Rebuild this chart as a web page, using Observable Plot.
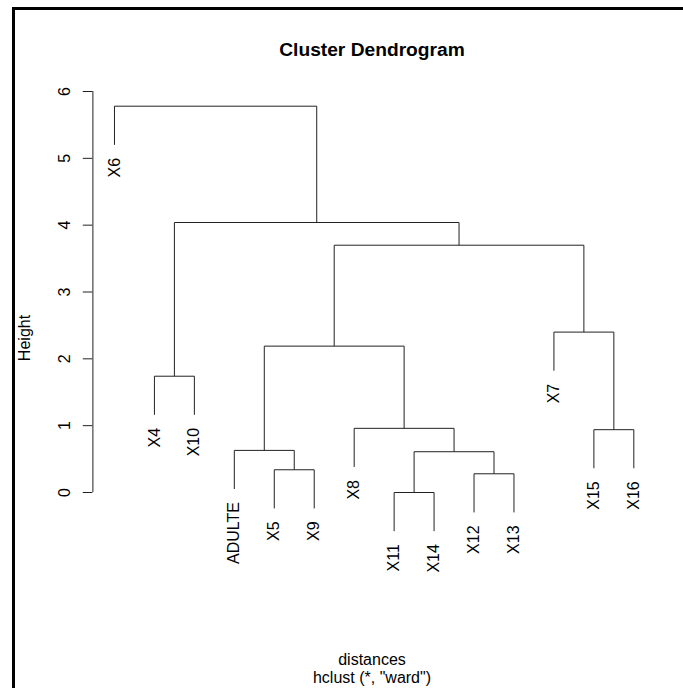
<!DOCTYPE html>
<html>
<head>
<meta charset="utf-8">
<script src="https://cdn.jsdelivr.net/npm/d3@7"></script>
<script src="https://cdn.jsdelivr.net/npm/@observablehq/plot@0.6"></script>
<style>
  html, body { margin: 0; padding: 0; background: #fff; }
  body { width: 683px; height: 688px; position: relative; overflow: hidden;
         font-family: "Liberation Sans", Arial, sans-serif; color: #000; }
  .frameL { position: absolute; left: 12px; top: 7px; width: 3px; height: 681px; background: #000; }
  .frameT { position: absolute; left: 12px; top: 7px; width: 671px; height: 3px; background: #000; }
  #title { position: absolute; left: 0; top: 38.8px; width: 744px; text-align: center;
           font-weight: bold; font-size: 19.2px; line-height: 22px; }
  #ylab { position: absolute; left: 25px; top: 338px; transform: translate(-50%, -50%) rotate(-90deg);
          font-size: 16px; line-height: 19.2px; white-space: nowrap; }
  #caption { position: absolute; left: 0; top: 650.5px; width: 744px; text-align: center;
             font-size: 16px; line-height: 18px; }
  #chart { position: absolute; left: 0; top: 70px; }
</style>
</head>
<body>
<div class="frameL"></div>
<div class="frameT"></div>
<div id="title">Cluster Dendrogram</div>
<div id="ylab">Height</div>
<div id="chart"></div>
<div id="caption">distances<br>hclust (*, "ward")</div>
<script>
// Leaves in dendrogram order
const leafLabels = ["X6", "X4", "X10", "ADULTE", "X5", "X9", "X8", "X11", "X14", "X12", "X13", "X7", "X15", "X16"];
// hclust-style merges: negative = leaf (1-based index in leafLabels), positive = earlier merge step
const mergeLeft   = [-8, -10, -5, 1, -4, -13, -7, -2, 5, -12, 9, 8, -1];
const mergeRight  = [-9, -11, -6, 2, 3, -14, 4, -3, 7, 6, 10, 11, 12];
const mergeHeight = [0.0, 0.28, 0.34, 0.61, 0.63, 0.94, 0.96, 1.74, 2.19, 2.40, 3.70, 4.04, 5.78];
const yTicks = [0, 1, 2, 3, 4, 5, 6];
const hangFraction = 0.1;

const hang = hangFraction * d3.max(mergeHeight);
const nodeX = [];
const segments = [];
const leaves = [];
function childX(c) { return c < 0 ? -c : nodeX[c - 1]; }
mergeHeight.forEach((h, i) => {
  const kids = [mergeLeft[i], mergeRight[i]];
  const xs = kids.map(childX);
  kids.forEach((c, j) => {
    const bottom = c < 0 ? h - hang : mergeHeight[c - 1];
    segments.push({x1: xs[j], y1: h, x2: xs[j], y2: bottom});
    if (c < 0) leaves.push({x: xs[j], y: bottom, label: leafLabels[-c - 1]});
  });
  segments.push({x1: xs[0], y1: h, x2: xs[1], y2: h});
  nodeX[i] = (xs[0] + xs[1]) / 2;
});

const n = leafLabels.length;
const pad = 0.04 * (n - 1);
const xDomain = [1 - pad - 0.02, n + pad + 0.02];

const chart = Plot.plot({
  width: 683,
  height: 560,
  marginLeft: 92.4,
  marginRight: 28.1,
  marginTop: 21,
  marginBottom: 138,
  x: {domain: xDomain, axis: null},
  y: {domain: [0, 6], axis: null},
  style: {fontFamily: "'Liberation Sans', Arial, sans-serif", fontSize: "16px", background: "transparent", color: "#000", overflow: "visible"},
  marks: [
    Plot.ruleX([xDomain[0]], {y1: yTicks[0], y2: yTicks[yTicks.length - 1], stroke: "#222", strokeWidth: 1}),
    Plot.axisY({ticks: yTicks, tickSize: 9.6, tickRotate: -90, tickPadding: 13.8, tickFormat: d => String(d), fontSize: 16, stroke: "#222", label: null}),
    Plot.link(segments, {x1: "x1", y1: "y1", x2: "x2", y2: "y2", stroke: "#222", strokeWidth: 1}),
    Plot.text(leaves, {x: "x", y: "y", text: "label", rotate: -90, textAnchor: "end", lineAnchor: "middle", dy: 13, fontSize: 16, fill: "#000"})
  ]
});
document.getElementById("chart").appendChild(chart);
</script>
</body>
</html>
